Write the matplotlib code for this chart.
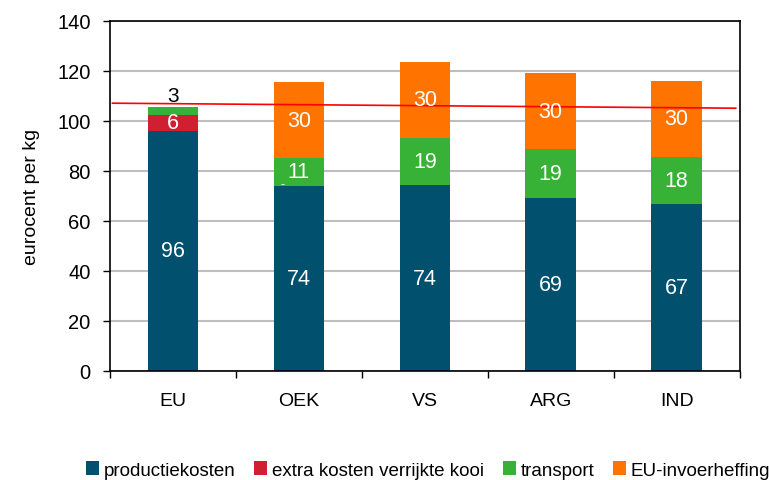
import numpy as np
import matplotlib
matplotlib.use("Agg")
import matplotlib.pyplot as plt

plt.rcParams['font.family'] = ['Liberation Sans', 'DejaVu Sans']

landen = ["EU", "OEK", "VS", "ARG", "IND"]
productiekosten = [96.0, 74.0, 74.2, 69.2, 66.8]
extra_kooi = [6.4, 0.0, 0.0, 0.0, 0.0]
transport = [3.0, 11.1, 18.9, 19.4, 18.7]
invoerheffing = [0.0, 30.3, 30.5, 30.4, 30.5]

# labels as printed in the chart (None = no label)
lbl_prod = ["96", "74", "74", "69", "67"]
lbl_extra = ["6", "-", None, None, None]
lbl_transport = ["3", "11", "19", "19", "18"]
lbl_heffing = [None, "30", "30", "30", "30"]

# red reference line (start / end)
lijn_x = [-0.48, 4.47]
lijn_y = [107.0, 105.0]

series = [
    ("productiekosten", productiekosten, "#00506E", lbl_prod),
    ("extra kosten verrijkte kooi", extra_kooi, "#D01F30", lbl_extra),
    ("transport", transport, "#38B236", lbl_transport),
    ("EU-invoerheffing", invoerheffing, "#FF7300", lbl_heffing),
]

fig = plt.figure(figsize=(7.69, 4.81), dpi=100)
ax = fig.add_axes([0.143, 0.227, 0.8187, 0.728])

x = np.arange(len(landen))
bottom = np.zeros(len(landen))
for name, vals, col, lbls in series:
    vals = np.array(vals)
    ax.bar(x, vals, 0.4, bottom=bottom, color=col, label=name, zorder=2, linewidth=0)
    for i, l in enumerate(lbls):
        if l is None:
            continue
        if name == "transport" and i == 0:
            # small segment -> label above the bar, in black
            ax.text(x[i], bottom[i] + vals[i] + 4.5, l, ha="center", va="center",
                    color="black", fontsize=15, zorder=4)
        elif l == "-":
            # zero-size segment: tiny dash just left of the "11"
            ax.text(x[i] - 0.13, bottom[i] + 0.8, l, ha="center", va="center",
                    color="white", fontsize=9, zorder=4)
        else:
            ax.text(x[i], bottom[i] + vals[i] / 2, l, ha="center", va="center",
                    color="white", fontsize=15.5, zorder=4)
    bottom += vals

ax.plot(lijn_x, lijn_y, color="#FF0000", lw=1.2, zorder=3)

ax.set_xlim(-0.5, len(landen) - 0.5)
ax.set_ylim(0, 140)
ax.set_yticks(range(0, 141, 20))
ax.set_xticks(x)
ax.set_xticklabels(landen)
ax.set_xticks(np.arange(-0.5, len(landen), 1.0), minor=True)
ax.tick_params(axis="x", which="major", length=0, pad=15, labelsize=14)
ax.tick_params(axis="x", which="minor", length=5, width=1)
ax.tick_params(axis="y", length=5, width=1, pad=9, labelsize=14.5)
ax.yaxis.grid(True, color="#BEBEBE", lw=1.5, zorder=0)
ax.set_axisbelow(True)
for s in ax.spines.values():
    s.set_linewidth(1.2)
ax.set_ylabel("eurocent per kg", fontsize=14, labelpad=12)

fig.legend(loc="center", bbox_to_anchor=(428 / 769, 1 - 471 / 481), ncol=4,
           frameon=False, fontsize=13.5, handlelength=0.7, handleheight=0.7,
           handletextpad=0.25, columnspacing=1.0)

fig.savefig("out.png", dpi=100)
